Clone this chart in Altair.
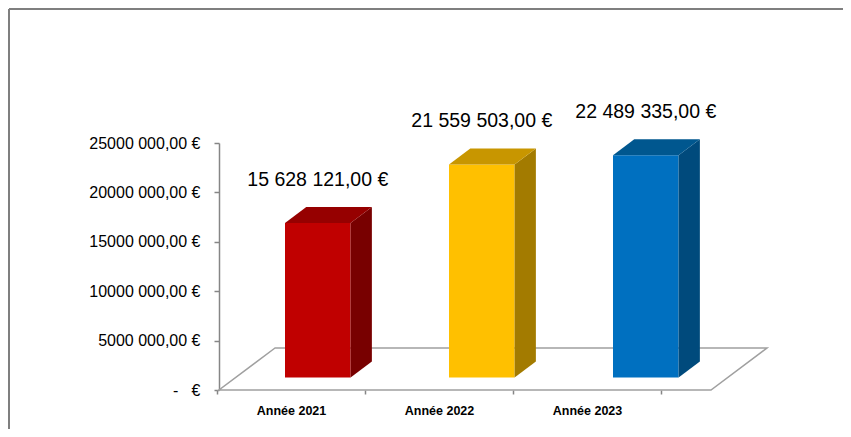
import json
import altair as alt
import pandas as pd

# ---- data ----
categories = ["Année 2021", "Année 2022", "Année 2023"]
values = [15628121, 21559503, 22489335]
y_tick_values = [0, 5000000, 10000000, 15000000, 20000000, 25000000]
y_tick_labels = ["-\u00a0\u00a0\u00a0€", "5000 000,00 €", "10000 000,00 €",
                 "15000 000,00 €", "20000 000,00 €", "25000 000,00 €"]


def fr(v):
    return f"{v:,.2f}".replace(",", " ").replace(".", ",") + " €"


value_labels = [fr(v) for v in values]

front_colors = ["#C00000", "#FFC000", "#0070C0"]
top_colors = ["#960000", "#C89600", "#00578F"]
side_colors = ["#780000", "#A37B00", "#004A7C"]

df = pd.DataFrame({"cat": categories, "idx": list(range(len(categories))),
                   "value": values, "label": value_labels})

# ---- layout constants (style) ----
W, H = 492, 247
YMAX = 25000000
N = len(categories)
DEPTH_PX_X, DEPTH_PX_Y = 56, 42
DX_U = DEPTH_PX_X / (W / N)
DY_U = DEPTH_PX_Y / (H / YMAX)
F1, F2 = 0.3, 0.68
GAP, BW = 0.3, 0.4
GRAY = "#868686"
FONT = "Liberation Sans"

xs = alt.Scale(domain=[0, N], nice=False, zero=False)
ys = alt.Scale(domain=[0, YMAX], nice=False)
label_expr = json.dumps(y_tick_labels, ensure_ascii=False) + "[round(datum.value/5000000)]"
y_axis = alt.Axis(values=y_tick_values, labelExpr=label_expr, title=None, grid=False,
                  domainColor=GRAY, domainWidth=1.5, tickColor=GRAY, tickWidth=1.5,
                  tickSize=5, labelPadding=14, labelFontSize=16, labelColor="#000000",
                  labelFont=FONT)


def cscale(rng):
    return alt.Scale(domain=categories, range=rng)


base = alt.Chart(df).transform_calculate(
    xl=f"datum.idx + {GAP} + {F1 * DX_U}",
    y0=f"{F1 * DY_U}",
).transform_calculate(
    xr=f"datum.xl + {BW}",
    y1=f"datum.value + datum.y0",
)

ddx = (F2 - F1) * DX_U
ddy = (F2 - F1) * DY_U

front = base.mark_rect().encode(
    x=alt.X("xl:Q", scale=xs, axis=None),
    x2="xr:Q",
    y=alt.Y("y0:Q", scale=ys, axis=y_axis),
    y2="y1:Q",
    color=alt.Color("cat:N", scale=cscale(front_colors), legend=None),
)

pairs = base.transform_calculate(k="[0,1]").transform_flatten(["k"])

side = pairs.transform_calculate(
    sx=f"datum.xr + datum.k*{ddx}",
    sy0=f"datum.y0 + datum.k*{ddy}",
    sy1=f"datum.y1 + datum.k*{ddy}",
).mark_area(orient="vertical").encode(
    x=alt.X("sx:Q", scale=xs, axis=None),
    y=alt.Y("sy0:Q", scale=ys, axis=y_axis, stack=None),
    y2="sy1:Q",
    detail="cat:N",
    color=alt.Color("cat:N", scale=cscale(side_colors), legend=None),
)

top = pairs.transform_calculate(
    ty=f"datum.y1 + datum.k*{ddy}",
    tx0=f"datum.xl + datum.k*{ddx}",
    tx1=f"datum.xr + datum.k*{ddx}",
).mark_area(orient="horizontal").encode(
    y=alt.Y("ty:Q", scale=ys, axis=y_axis),
    x=alt.X("tx0:Q", scale=xs, axis=None, stack=None),
    x2="tx1:Q",
    detail="cat:N",
    color=alt.Color("cat:N", scale=cscale(top_colors), legend=None),
)

floor = alt.Chart(pd.DataFrame({"k": [0, 1]})).transform_calculate(
    fy=f"datum.k*{DY_U}",
    fx0=f"datum.k*{DX_U}",
    fx1=f"{N} + datum.k*{DX_U}",
).mark_area(orient="horizontal", fillOpacity=0, stroke="#A0A0A0", strokeWidth=1.5).encode(
    y=alt.Y("fy:Q", scale=ys, axis=y_axis),
    x=alt.X("fx0:Q", scale=xs, axis=None, stack=None),
    x2="fx1:Q",
)

labels = base.mark_text(fontSize=19.5, font=FONT, color="#000000", baseline="middle",
                        align="center", dy=-27).encode(
    x=alt.X("mx:Q", scale=xs, axis=None),
    y=alt.Y("ty:Q", scale=ys, axis=y_axis),
    text="label:N",
).transform_calculate(mx="(datum.xl + datum.xr)/2", ty=f"datum.y1 + {ddy}")

cat_axis = alt.Chart(df).mark_point(opacity=0).encode(
    x=alt.X("cat:N", sort=categories,
            scale=alt.Scale(domain=categories, range=[-2, 442], paddingInner=0, paddingOuter=0),
            axis=alt.Axis(title=None, labelAngle=0, domain=False, tickBand="extent",
                          tickSize=4, tickColor=GRAY, tickWidth=1.5, labelFontSize=12.5,
                          labelFontWeight="bold", labelPadding=10, labelColor="#000000",
                          labelFont=FONT, grid=False)),
    y=alt.value(0),
)

one = pd.DataFrame({"a": [0]})
frame_h = alt.Chart(one).mark_rule(color="#7F7F7F", strokeWidth=2).encode(
    x=alt.value(-210), x2=alt.value(640), y=alt.value(-134))
frame_v = alt.Chart(one).mark_rule(color="#7F7F7F", strokeWidth=2).encode(
    x=alt.value(-210), y=alt.value(-134), y2=alt.value(300))

chart = alt.layer(frame_h, frame_v, floor, front, side, top, labels, cat_axis).resolve_scale(
    x="independent", color="independent"
).properties(
    width=W, height=H,
    autosize=alt.AutoSizeParams(type="none"),
    padding={"left": 211, "top": 135, "right": 132, "bottom": 39},
).configure(font=FONT).configure_view(strokeWidth=0)

chart.save("out.html", embed_options={"renderer": "svg", "actions": False})
